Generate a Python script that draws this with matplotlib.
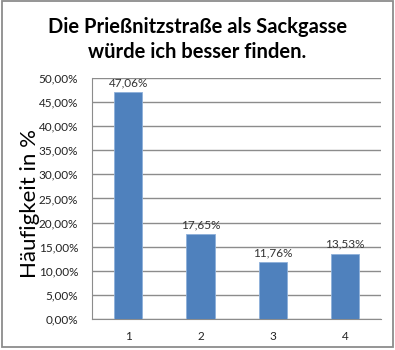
import numpy as np
import matplotlib.pyplot as plt
from matplotlib.patches import Rectangle
from matplotlib.ticker import FuncFormatter, MultipleLocator

plt.rcParams['font.family'] = ['Lato', 'DejaVu Sans']

# data
categories = ['1', '2', '3', '4']
values = [47.06, 17.65, 11.76, 13.53]

fig = plt.figure(figsize=(3.95, 3.5), dpi=100)
ax = fig.add_axes([0.233, 0.089, 0.732, 0.688])

x = np.arange(len(categories))
ax.bar(x, values, width=0.39, color='#4F81BD', edgecolor='#8DB0DA', linewidth=0.6, zorder=3)

for xi, v in zip(x, values):
    ax.text(xi, v + 0.8, f"{v:.2f}%".replace('.', ','), ha='center', va='bottom',
            fontsize=8.5, color='#333333', zorder=4)

ax.set_xlim(-0.5, len(categories) - 0.5)
ax.set_ylim(0, 50)
ax.set_xticks(x)
ax.set_xticklabels(categories)
ax.yaxis.set_major_locator(MultipleLocator(5))
ax.yaxis.set_major_formatter(FuncFormatter(lambda v, p: f"{v:.2f}%".replace('.', ',')))
ax.tick_params(axis='both', length=0, labelsize=8.5, colors='#222222')
ax.tick_params(axis='y', pad=10)
ax.tick_params(axis='x', pad=9)

ax.grid(axis='y', color='#8C8C8C', linewidth=1.0, zorder=0)
for side in ['top', 'right']:
    ax.spines[side].set_visible(False)
ax.spines['left'].set_color('#8C8C8C')
ax.spines['bottom'].set_color('#8C8C8C')

ax.set_ylabel('Häufigkeit in %', fontsize=16, va='center')
ax.yaxis.set_label_coords(-0.215, 0.48)

fig.text(0.5, 0.887, 'Die Prießnitzstraße als Sackgasse\nwürde ich besser finden.',
         ha='center', va='center', fontsize=14.5, fontweight='bold', linespacing=1.35)

# chart border
fig.patches.append(Rectangle((0.004, 0.008), 0.99, 0.988, transform=fig.transFigure,
                             fill=False, edgecolor='#8C8C8C', linewidth=1.3))

plt.savefig('out.png', dpi=100)
